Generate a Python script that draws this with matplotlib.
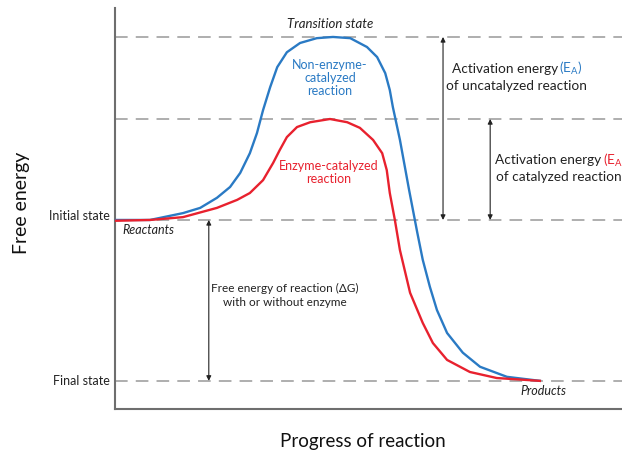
import numpy as np
import matplotlib
matplotlib.use("Agg")
import matplotlib.pyplot as plt

plt.rcParams['font.family'] = ['Lato', 'DejaVu Sans']

# energy levels (arbitrary units)
final_state = 0.0
initial_state = 4.0
catalyzed_peak = 6.51
uncatalyzed_peak = 8.55

# non-enzyme-catalyzed curve
blue_x = [0.00, 0.69, 1.34, 1.68, 2.01, 2.27, 2.47, 2.66, 2.80, 2.92, 3.06, 3.20, 3.39,
          3.65, 3.98, 4.30, 4.64, 4.97, 5.17, 5.33, 5.42, 5.48, 5.62, 5.80, 5.96, 6.07,
          6.21, 6.35, 6.55, 6.86, 7.20, 7.73, 8.38]
blue_y = [4.00, 4.00, 4.17, 4.30, 4.55, 4.82, 5.17, 5.66, 6.16, 6.73, 7.30, 7.80, 8.17,
          8.40, 8.52, 8.55, 8.52, 8.30, 8.05, 7.65, 7.23, 6.81, 5.99, 4.75, 3.70, 3.01,
          2.34, 1.76, 1.19, 0.70, 0.35, 0.10, 0.00]

# enzyme-catalyzed curve
red_x = [0.00, 0.69, 1.34, 2.01, 2.41, 2.66, 2.92, 3.12, 3.25, 3.39, 3.59, 3.85, 4.24,
         4.58, 4.83, 5.09, 5.27, 5.36, 5.42, 5.52, 5.62, 5.82, 6.07, 6.27, 6.55, 7.00,
         7.53, 8.38]
red_y = [3.98, 4.00, 4.07, 4.30, 4.50, 4.67, 4.99, 5.42, 5.74, 6.06, 6.31, 6.43, 6.51,
         6.43, 6.29, 5.99, 5.66, 5.24, 4.67, 4.00, 3.25, 2.19, 1.44, 0.94, 0.52, 0.22,
         0.07, 0.00]

BLUE = '#2a7ac4'
RED = '#e8212e'
GREY = '#a8a8a8'
INK = '#222222'

fig = plt.figure(figsize=(6.22, 4.54), dpi=100)
ax = fig.add_axes([115/622, 45/454, 507/622, 401/454])
ax.set_xlim(0, 10)
ax.set_ylim(-0.70, 9.27)

for lvl in [final_state, initial_state, catalyzed_peak, uncatalyzed_peak]:
    ax.axhline(lvl, color=GREY, lw=1.3, ls=(0, (7, 4.5)), zorder=1)

ax.plot(blue_x, blue_y, color=BLUE, lw=1.7, zorder=3, solid_joinstyle='round')
ax.plot(red_x, red_y, color=RED, lw=1.7, zorder=3, solid_joinstyle='round')

# arrows
arrow = dict(arrowstyle='<|-|>', color=INK, lw=0.8, mutation_scale=7, shrinkA=0, shrinkB=0)
ax.annotate('', xy=(6.47, uncatalyzed_peak), xytext=(6.47, initial_state), arrowprops=arrow)
ax.annotate('', xy=(7.40, catalyzed_peak), xytext=(7.40, initial_state), arrowprops=arrow)
ax.annotate('', xy=(1.85, initial_state), xytext=(1.85, final_state), arrowprops=arrow)

# labels in the plot
ax.text(4.24, 8.87, 'Transition state', style='italic', fontsize=9.5, ha='center', va='center', color=INK)
ax.text(4.24, 7.53, 'Non-enzyme-\ncatalyzed\nreaction', color=BLUE, fontsize=9, ha='center', va='center', linespacing=1.1)
ax.text(4.22, 5.17, 'Enzyme-catalyzed\nreaction', color=RED, fontsize=9, ha='center', va='center', linespacing=1.1)
ax.text(0.14, 3.75, 'Reactants', style='italic', fontsize=9, ha='left', va='center', color=INK)
ax.text(8.44, -0.25, 'Products', style='italic', fontsize=9, ha='center', va='center', color=INK)

ax.text(6.65, 7.76, 'Activation energy ', fontsize=9.8, ha='left', va='center', color=INK)
ax.text(8.76, 7.76, '(E$_\\mathregular{A}$)', fontsize=9.8, ha='left', va='center', color=BLUE)
ax.text(7.92, 7.34, 'of uncatalyzed reaction', fontsize=9.8, ha='center', va='center', color=INK)

ax.text(7.50, 5.49, 'Activation energy ', fontsize=9.8, ha='left', va='center', color=INK)
ax.text(9.62, 5.49, '(E$_\\mathregular{A}$)', fontsize=9.8, ha='left', va='center', color=RED)
ax.text(8.76, 5.07, 'of catalyzed reaction', fontsize=9.8, ha='center', va='center', color=INK)

ax.text(3.35, 2.12, 'Free energy of reaction (\u0394G)\nwith or without enzyme', fontsize=8.5,
        ha='center', va='center', color=INK, linespacing=1.25)

# state labels
ax.text(-0.1, 4.1, 'Initial state', fontsize=9, ha='right', va='center', color=INK, clip_on=False)
ax.text(-0.1, 0.0, 'Final state', fontsize=9, ha='right', va='center', color=INK, clip_on=False)

ax.set_xticks([])
ax.set_yticks([])
for s in ['top', 'right']:
    ax.spines[s].set_visible(False)
for s in ['left', 'bottom']:
    ax.spines[s].set_color('#6e6e6e')
    ax.spines[s].set_linewidth(1.5)

fig.text(363/622, 1 - 442/454, 'Progress of reaction', fontsize=13.5, ha='center', va='center', color='#111111')
fig.text(22/622, 1 - 203/454, 'Free energy', fontsize=14, rotation=90, ha='center', va='center', color='#111111')

fig.savefig('out.png', dpi=100)
